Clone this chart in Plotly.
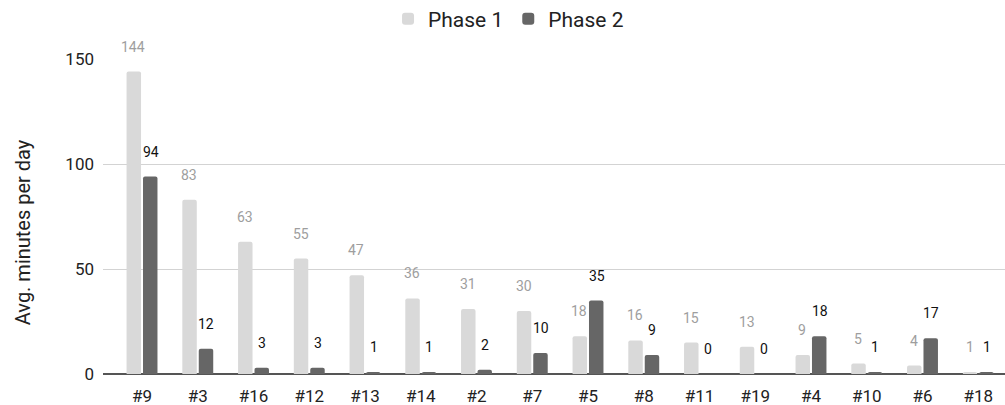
import plotly.graph_objects as go

categories = ["#9", "#3", "#16", "#12", "#13", "#14", "#2", "#7", "#5", "#8",
              "#11", "#19", "#4", "#10", "#6", "#18"]
phase1 = [144, 83, 63, 55, 47, 36, 31, 30, 18, 16, 15, 13, 9, 5, 4, 1]
phase2 = [94, 12, 3, 3, 1, 1, 2, 10, 35, 9, 0, 0, 18, 1, 17, 1]
y_ticks = [0, 50, 100, 150]

LIGHT = "#d9d9d9"
DARK = "#666666"
FONT = "Roboto"

fig = go.Figure()
fig.add_trace(go.Bar(name="Phase 1", x=categories, y=phase1, marker_color=LIGHT,
                     marker_line_width=0))
fig.add_trace(go.Bar(name="Phase 2", x=categories, y=phase2, marker_color=DARK,
                     marker_line_width=0))

annotations = []
for i, c in enumerate(categories):
    annotations.append(dict(x=c, y=phase1[i], xref="x", yref="y", text=str(phase1[i]),
                            showarrow=False, xshift=-8.7, yshift=25, yanchor="middle",
                            font=dict(family=FONT, size=14, color="#9e9e9e")))
    annotations.append(dict(x=c, y=phase2[i], xref="x", yref="y", text=str(phase2[i]),
                            showarrow=False, xshift=8.7, yshift=25, yanchor="middle",
                            font=dict(family=FONT, size=14, color="#111111")))
annotations.append(dict(x=-0.0887, y=0.45, xref="paper", yref="paper",
                        text="Avg. minutes per day", textangle=-90, showarrow=False,
                        xanchor="center", yanchor="middle",
                        font=dict(family=FONT, size=20, color="#222222")))

fig.update_layout(
    width=1005, height=405,
    margin=dict(l=103, r=0, t=59, b=31, pad=0),
    paper_bgcolor="white", plot_bgcolor="white",
    font=dict(family=FONT, size=17, color="#222222"),
    barmode="group", bargap=0.41, bargroupgap=0.12, barcornerradius=2,
    showlegend=True,
    legend=dict(orientation="h", xref="container", yref="container",
                x=0.506, y=0.953, xanchor="center", yanchor="middle",
                font=dict(family=FONT, size=21, color="#222222"),
                itemwidth=30, traceorder="normal"),
    annotations=annotations,
)
fig.update_xaxes(range=[-0.7, 15.48], showgrid=False, showline=False, ticks="",
                 ticklabelstandoff=10,
                 tickfont=dict(size=17, color="#222222"), fixedrange=True)
fig.update_yaxes(range=[0, 150], tickvals=y_ticks, showgrid=True, gridcolor="#d3d3d3",
                 gridwidth=1, zeroline=True, zerolinecolor="#555555", zerolinewidth=1.5,
                 showline=False, ticks="", ticklabelstandoff=8,
                 tickfont=dict(size=17, color="#222222"))

fig.write_html("out.html")
